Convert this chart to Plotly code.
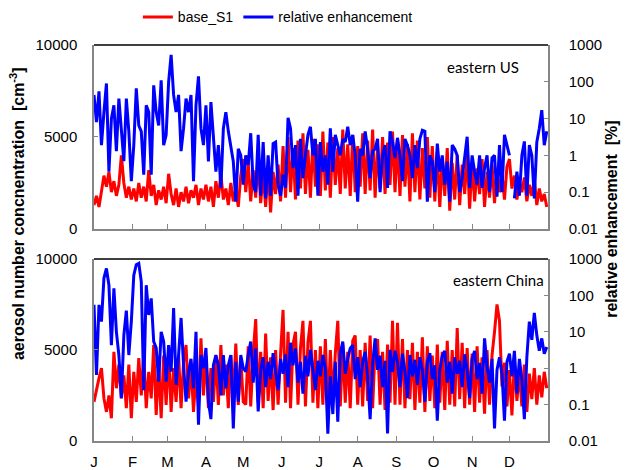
import numpy as np
import plotly.graph_objects as go

# ---------------- data ----------------
month_labels = ["J", "F", "M", "A", "M", "J", "J", "A", "S", "O", "N", "D"]
month_start_days = [0, 31, 59, 90, 120, 151, 181, 212, 243, 273, 304, 334]
sample_step_days = 2

# eastern US: base_S1 aerosol number concentration [cm-3]
us_base = [
    1300, 1800, 1200, 2200, 2900, 2300, 3100, 2000, 2600, 1800, 2400, 4000, 2500, 1700, 2300, 1600,
    2200, 1500, 2500, 1700, 2300, 1500, 3200, 1800, 2400, 1300, 2100, 1600, 2300, 1400,
    3000, 1900, 1300, 2200, 1200, 2000, 1500, 2300, 1400, 2100, 1700, 2400, 1300, 2200, 1600, 2400,
    1500, 2300, 1200, 2600, 1700, 3000, 1600, 2200, 1300, 2500, 1500, 2200, 1200, 2900, 3800,
    2000, 3600, 1500, 3200, 1700, 3800, 1400, 3000, 1200, 3400, 900, 3100, 1900, 3500, 1500,
    4500, 1700, 5000, 2000, 4400, 1600, 4800, 2200, 5200, 1900, 4300, 1700, 4900, 2300, 4600,
    1800, 5300, 2100, 4700, 1700, 5000, 2400, 4400, 1900, 5400, 2200, 4600, 1800, 5100, 2000, 4500,
    2300, 5200, 1900, 4800, 2100, 5400, 1700, 4500, 2200, 5000, 1900, 4700, 2400, 5300, 2000,
    4900, 1800, 5100, 2300, 4600, 1500, 5200, 2000, 4800, 1600, 4400, 2200, 5000, 1700, 4500,
    1500, 4200, 1200, 3800, 1800, 4400, 1000, 3600, 1600, 4000, 1300, 3500, 1900, 4100, 1100,
    3600, 1500, 3300, 1900, 3800, 1200, 3100, 1700, 3500, 1400, 3200, 2000, 3000, 1600, 3400,
    3800, 2200, 2900, 1600, 2600, 2000, 2800, 1500, 2400, 1800, 2700, 1300, 2200, 1500, 1900, 1200,
]

# eastern US: relative enhancement [%]
us_rel = [
    44, 8, 55, 1.9, 15, 90, 0.36, 10, 23, 1.3, 35, 5, 0.7, 35, 4.5, 0.2,
    1.9, 66, 6.5, 4.5, 0.3, 23, 15, 0.3, 80, 15, 6.5, 110, 1.9, 3.6,
    100, 540, 44, 15, 44, 1.3, 5.4, 35, 15, 44, 0.2, 23, 140, 5.4, 1.9, 23,
    0.68, 28, 2.8, 0.36, 1.9, 0.13, 5.4, 15, 4.5, 1.9, 0.68, 0.055, 1.5, 1.0, 0.16,
    1.0, 0.55, 4, 0.16, 0.1, 3.6, 0.08, 2.3, 0.068, 1.0, 0.08, 2.1, 2.3, 0.16, 0.08,
    0.3, 0.13, 10.5, 5.4, 0.45, 1.9, 0.08, 2.8, 0.24, 1.0, 3.6, 6, 1.0, 2.8, 0.08,
    2.3, 0.36, 1.0, 0.16, 5.4, 0.36, 3.6, 1.9, 1.0, 2.8, 2.3, 6, 1.9, 3.6, 1.0, 0.055,
    1.5, 1.0, 4.5, 1.5, 0.24, 1.3, 1.5, 2.8, 0.1, 1.0, 1.9, 0.13, 4.5, 2.3, 0.85,
    3, 1.0, 0.2, 2.8, 1.9, 1.0, 0.24, 1.9, 0.45, 2.8, 4.8, 4.5, 0.055, 1.0, 0.68,
    0.1, 2.1, 0.36, 1.0, 0.16, 0.68, 0.055, 1.9, 1.5, 1.0, 0.1, 0.24, 1.0, 3.2, 0.13,
    1.0, 0.36, 0.16, 1.0, 0.13, 0.45, 1.0, 0.1, 0.85, 1.0, 0.075, 1.9, 0.1, 3.6, 1.9,
    1.0, None, 0.068, 0.36, 0.08, 1.0, 2.4, 0.08, 1.9, 1.0, 0.068, 2.3, 5.4, 17, 1.9, 4.5,
]

# eastern China: base_S1 aerosol number concentration [cm-3]
cn_base = [
    2150, 2900, 3450, 4000, 2340, 1600, 2500, 1250, 4900, 2900, 4200, 2340, 3600, 1800, 4200, 1250,
    3800, 2150, 4550, 2500, 4700, 1800, 3800, 2340, 5270, 1430, 4200, 1250, 4700, 1980,
    4900, 1600, 4000, 2150, 4700, 1800, 4350, 5270, 2340, 4200, 1600, 3600, 1980, 5640, 2500, 4700,
    1800, 4000, 2150, 4700, 1980, 5270, 2500, 4200, 1800, 4700, 2340, 5350, 1980, 4550, 2150,
    2000, 5200, 1900, 4800, 6700, 2100, 4900, 1800, 5900, 2200, 4600, 1700, 5000, 2000, 4800,
    7200, 2100, 6000, 1800, 5300, 6000, 2000, 5100, 6600, 1900, 5400, 6600, 2100, 5000, 1800,
    5200, 2000, 5600, 1700, 5000, 2200, 4800, 6600, 1900, 5300, 2100, 4900, 1800, 5500, 5800, 2000,
    5000, 1900, 5400, 2200, 5800, 1800, 5100, 5600, 2000, 4900, 1700, 5300, 2100, 6600, 2000,
    6500, 2000, 5600, 1800, 5000, 2300, 5400, 1700, 4900, 2100, 5700, 1600, 5200, 2200, 4700,
    1800, 5300, 2100, 4900, 1700, 5500, 2000, 5000, 1900, 6200, 2300, 5400, 1800, 5100, 2000,
    4800, 1600, 5200, 2100, 4600, 1500, 5000, 2000, 4700, 6000, 7500, 6600, 3000, 4300, 1900,
    3900, 1400, 4400, 2200, 3800, 1900, 4200, 1600, 3700, 2300, 4000, 2000, 3600, 2400, 3800, 2900,
]

# eastern China: relative enhancement [%]
cn_rel = [
    55, 0.65, 55, 19, 300, 550, 190, 4.3, 156, 10, 2.3, 0.15, 8, 38, 2.3, 19,
    360, 700, 760, 240, 0.25, 190, 29, 83, 5.4, 3.6, 0.43, 10, 5.4, 0.43,
    4.3, 0.8, 45, 0.35, 2.3, 24, 1.2, 0.12, 0.8, 1.8, 0.28, 10, 0.028, 2.3, 1.0, 3.6,
    0.12, 0.04, 1.2, 2.3, 1.2, 0.18, 2.3, 0.28, 1.2, 2.3, 0.022, 1.5, 0.12, 2.3, 1.0,
    0.8, 2.3, 5.4, 0.4, 3.5, 0.065, 0.9, 2.0, 0.3, 1.5, 0.5, 2.6, 0.9, 0.25, 1.8,
    0.7, 2.4, 0.3, 5, 1.2, 3.5, 0.4, 1.5, 0.2, 2.2, 0.6, 3.2, 0.9, 0.25, 1.6,
    0.6, 2.3, 1.0, 0.016, 0.6, 0.055, 1.5, 0.034, 2.5, 5.4, 0.7, 1.8, 3.5, 4.3, 0.5, 2.0,
    0.3, 1.5, 2.8, 0.6, 0.04, 1.3, 6.6, 0.9, 2.2, 0.3, 1.6, 0.016, 3.2, 0.8, 3.0,
    1.5, 0.3, 2.5, 0.8, 0.15, 2.3, 0.6, 1.7, 0.35, 2.0, 0.9, 0.12, 1.5, 2.6, 0.5,
    1.2, 0.036, 0.9, 2.2, 3.0, 0.4, 1.5, 0.2, 2.0, 0.7, 1.6, 0.3, 2.4, 0.9, 0.15,
    1.8, 3.0, 0.5, 1.4, 0.2, 6.6, 1.1, 0.4, 1.8, 0.022, 0.9, 2.0, 0.7, 0.036, 1.5,
    2.5, 0.6, 3.0, 0.2, 1.8, 0.5, 0.04, 2.0, 19, 6, 33, 8, 3.0, 6.6, 2.5, 3.8,
]

conc_ticks = [0, 5000, 10000]
conc_ticktext = ["0", "5000", "10000"]
rel_ticks = [0.01, 0.1, 1, 10, 100, 1000]
rel_ticktext = ["0.01", "0.1", "1", "10", "100", "1000"]

panel_titles = ["eastern US", "eastern China"]
series_names = ["base_S1", "relative enhancement"]


def days(values):
    return np.arange(len(values)) * sample_step_days


RED = "#FF0000"
BLUE = "#0000FF"
LINE_W = 3
FONT = "Liberation Sans"
AXIS_GRAY = "#868686"
TICK_SIZE = 15

fig = go.Figure()

# top panel
fig.add_trace(go.Scatter(x=days(us_base), y=us_base, mode="lines", name=series_names[0],
                         line=dict(color=RED, width=LINE_W), xaxis="x", yaxis="y"))
fig.add_trace(go.Scatter(x=days(us_rel), y=us_rel, mode="lines", name=series_names[1],
                         line=dict(color=BLUE, width=LINE_W), xaxis="x", yaxis="y2"))
# bottom panel
fig.add_trace(go.Scatter(x=days(cn_base), y=cn_base, mode="lines", name=series_names[0],
                         showlegend=False, line=dict(color=RED, width=LINE_W),
                         xaxis="x2", yaxis="y3"))
fig.add_trace(go.Scatter(x=days(cn_rel), y=cn_rel, mode="lines", name=series_names[1],
                         showlegend=False, line=dict(color=BLUE, width=LINE_W),
                         xaxis="x2", yaxis="y4"))

top_dom = [0.5354, 1.0]
bot_dom = [0.0, 0.4596]

xcommon = dict(range=[0, 365], tickmode="array", tickvals=month_start_days,
               ticks="inside", ticklen=5, tickcolor=AXIS_GRAY, showgrid=False,
               zeroline=False, showline=True, linecolor=AXIS_GRAY, linewidth=1.5,
               domain=[0, 1], tickfont=dict(family=FONT, size=TICK_SIZE, color="#000"),
               ticklabelstandoff=6)
lincommon = dict(range=[0, 10000], tickmode="array", tickvals=conc_ticks,
                 ticktext=conc_ticktext,
                 ticks="inside", ticklen=4, tickcolor=AXIS_GRAY, showgrid=False,
                 zeroline=False, showline=True, linecolor=AXIS_GRAY, linewidth=1.5,
                 tickfont=dict(family=FONT, size=TICK_SIZE, color="#000"),
                 ticklabelstandoff=12)
logcommon = dict(type="log", range=[-2, 3], tickmode="array", tickvals=rel_ticks,
                 ticktext=rel_ticktext, side="right", ticks="inside", ticklen=4,
                 tickcolor=AXIS_GRAY, showgrid=False, zeroline=False, showline=True,
                 linecolor=AXIS_GRAY, linewidth=1.5,
                 tickfont=dict(family=FONT, size=TICK_SIZE, color="#000"),
                 ticklabelstandoff=16)

# The page adds an 8px body margin, so the figure is sized 8px smaller
# and its margins shifted so the plot area lands at the reference pixels.
fig.update_layout(
    width=623, height=462,
    margin=dict(l=86, r=83, t=37, b=29, autoexpand=False),
    paper_bgcolor="white", plot_bgcolor="white",
    xaxis=dict(**xcommon, anchor="y", showticklabels=False),
    xaxis2=dict(**xcommon, anchor="y3", ticktext=month_labels, showticklabels=True),
    yaxis=dict(**lincommon, domain=top_dom, anchor="x"),
    yaxis2=dict(**logcommon, domain=top_dom, anchor="x", overlaying="y"),
    yaxis3=dict(**lincommon, domain=bot_dom, anchor="x2"),
    yaxis4=dict(**logcommon, domain=bot_dom, anchor="x2", overlaying="y3"),
    legend=dict(orientation="h", x=0.405, y=1.07, xanchor="center", yanchor="middle",
                font=dict(family=FONT, size=14, color="#000"), itemwidth=30,
                bgcolor="rgba(0,0,0,0)"),
    showlegend=True,
)

# top border lines of each panel (black)
for dom in (top_dom, bot_dom):
    fig.add_shape(type="line", xref="paper", yref="paper", x0=0, x1=1, y0=dom[1], y1=dom[1],
                  line=dict(color="black", width=1.5))

annots = [
    dict(text=panel_titles[0], x=0.857, y=0.944),
    dict(text=panel_titles[1], x=0.89, y=0.4066),
]
for a in annots:
    fig.add_annotation(text=a["text"], x=a["x"], y=a["y"], xref="paper", yref="paper",
                       showarrow=False, xanchor="center", yanchor="middle",
                       font=dict(family="Lato", size=15, color="#000"))

fig.add_annotation(text="aerosol number concnentration  [cm<sup>-3</sup>]", x=-0.168, y=0.575,
                   xref="paper", yref="paper", showarrow=False, textangle=-90,
                   xanchor="center", yanchor="middle",
                   font=dict(family=FONT, size=16, color="#000", weight="bold"))
fig.add_annotation(text="relative enhancement  [%]", x=1.14, y=0.56,
                   xref="paper", yref="paper", showarrow=False, textangle=-90,
                   xanchor="center", yanchor="middle",
                   font=dict(family=FONT, size=16, color="#000", weight="bold"))

fig.write_html("out.html")
